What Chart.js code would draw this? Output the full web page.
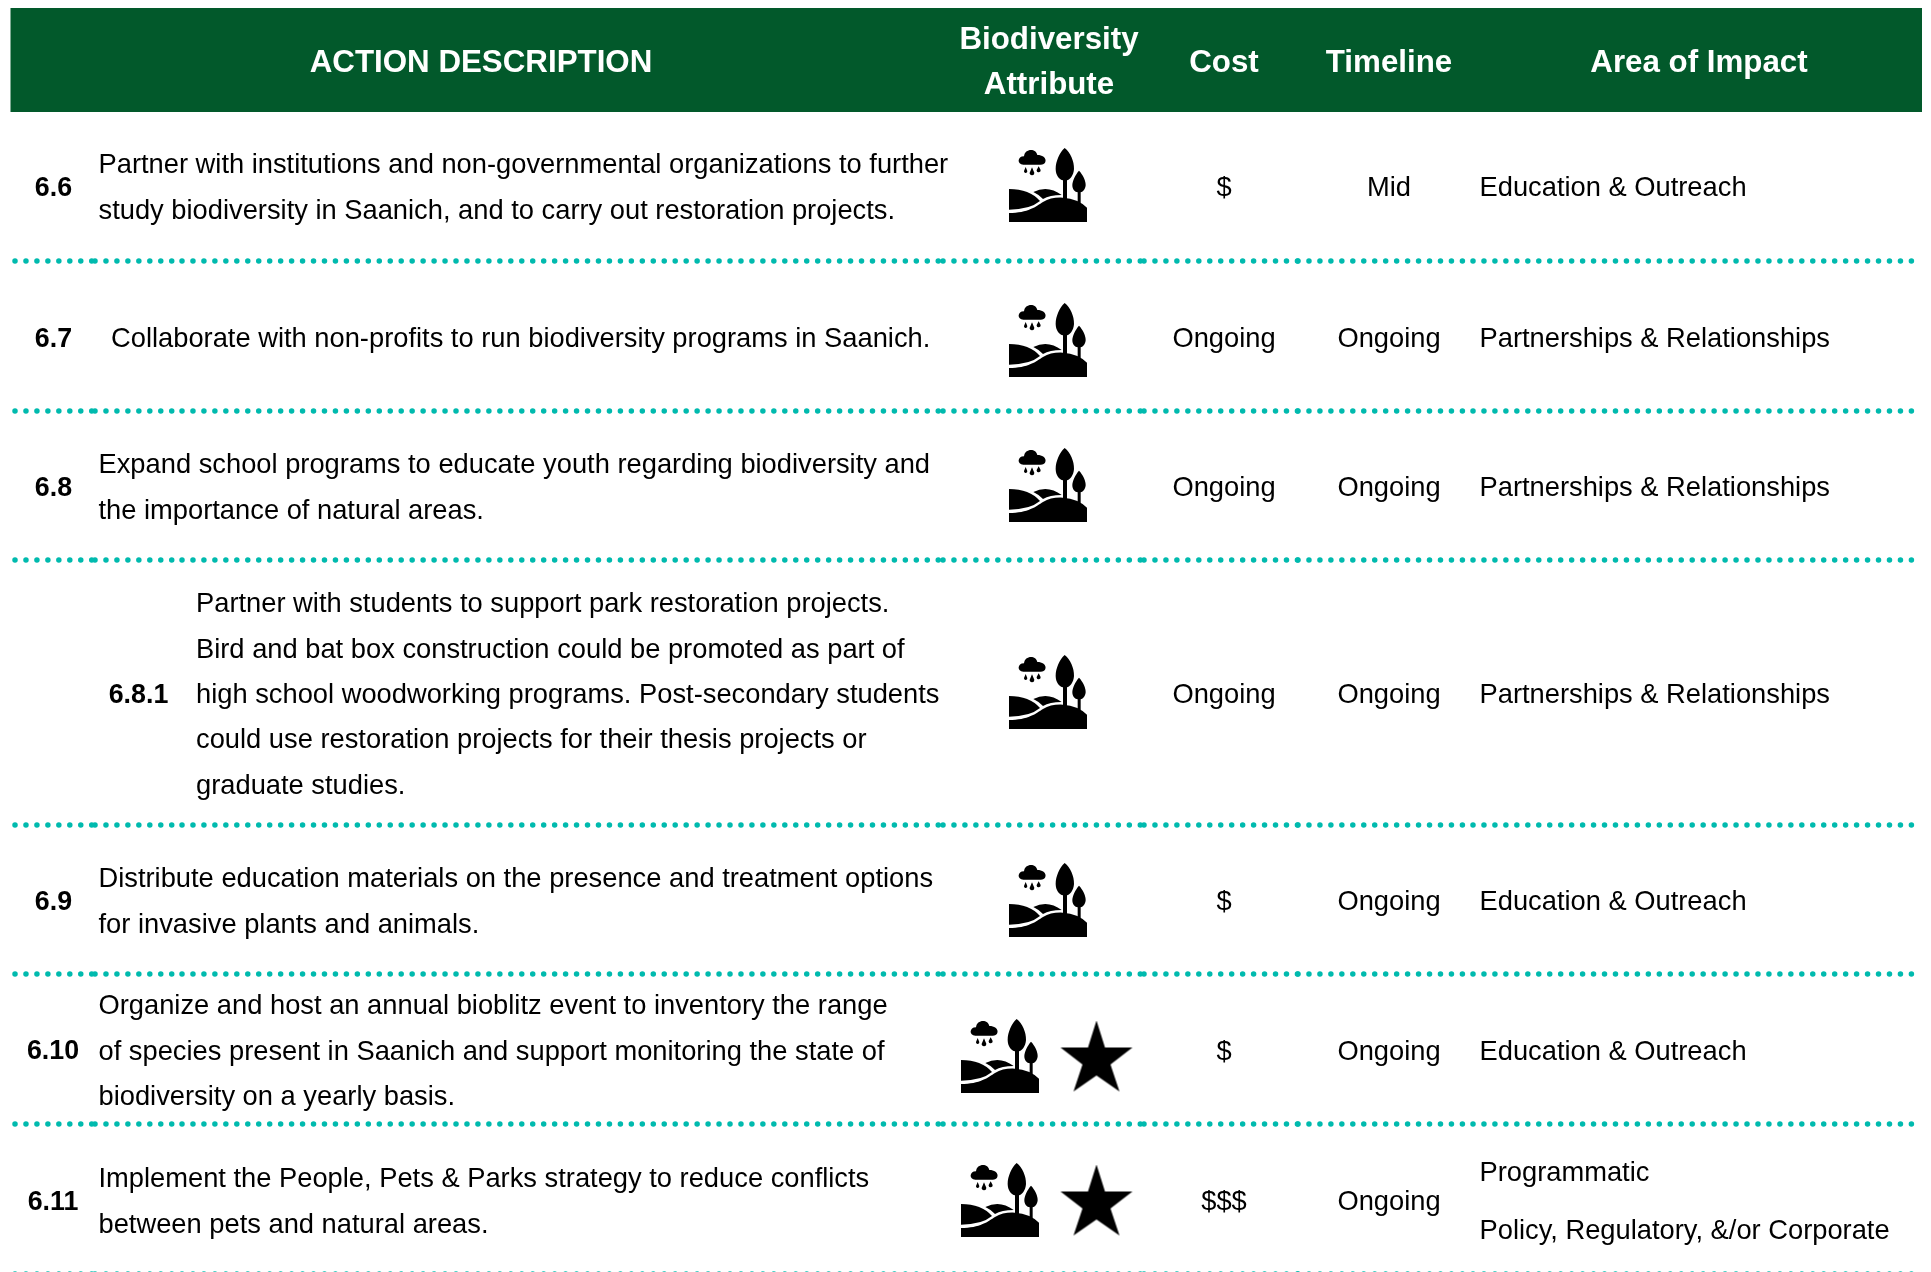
<!DOCTYPE html>
<html>
<head>
<meta charset="utf-8">
<title>Biodiversity actions</title>
<style>
  html, body { margin: 0; padding: 0; background: #fff; }
  canvas { display: block; }
</style>
<script src="https://cdn.jsdelivr.net/npm/chart.js@4"></script>
</head>
<body>
<canvas id="table" width="1931" height="1272"></canvas>
<script>
// ---- table content ----
const headerLabels = [["ACTION DESCRIPTION"], ["Biodiversity", "Attribute"], ["Cost"], ["Timeline"], ["Area of Impact"]];
const rowIds = ["6.6", "6.7", "6.8", "6.8.1", "6.9", "6.10", "6.11"];
const rowDescriptions = [
  ["Partner with institutions and non-governmental organizations to further", "study biodiversity in Saanich, and to carry out restoration projects."],
  ["Collaborate with non-profits to run biodiversity programs in Saanich."],
  ["Expand school programs to educate youth regarding biodiversity and", "the importance of natural areas."],
  ["Partner with students to support park restoration projects.", "Bird and bat box construction could be promoted as part of", "high school woodworking programs. Post-secondary students", "could use restoration projects for their thesis projects or", "graduate studies."],
  ["Distribute education materials on the presence and treatment options", "for invasive plants and animals."],
  ["Organize and host an annual bioblitz event to inventory the range", "of species present in Saanich and support monitoring the state of", "biodiversity on a yearly basis."],
  ["Implement the People, Pets & Parks strategy to reduce conflicts", "between pets and natural areas."],
];
const rowCosts = ["$", "Ongoing", "Ongoing", "Ongoing", "$", "$", "$$$"];
const rowTimelines = ["Mid", "Ongoing", "Ongoing", "Ongoing", "Ongoing", "Ongoing", "Ongoing"];
const rowImpacts = [
  ["Education & Outreach"],
  ["Partnerships & Relationships"],
  ["Partnerships & Relationships"],
  ["Partnerships & Relationships"],
  ["Education & Outreach"],
  ["Education & Outreach"],
  ["Programmatic", "Policy, Regulatory, &/or Corporate"],
];
const rowHasStar = [false, false, false, false, false, true, true];

// ---- layout (axes run in page pixels) ----
const headerBand = { left: 10.5, right: 1922, top: 8, bottom: 112 };
const rowMiddles = [188.5, 339.5, 488.5, 695.5, 902.5, 1052, 1202.5];
const iconMiddles = [185, 340, 485, 692, 900, 1056, 1200];
const separatorYs = [261, 411, 560, 825, 974, 1124, 1274];
const separatorBreaks = [15, 95, 182, 943, 1144, 1298, 1473, 1922];
const headerCentres = [481, 1049, 1224, 1389, 1699];
const idCentres = [53.5, 53.5, 53.5, 138.5, 53.5, 53, 53];
const descLefts = [98.5, 111, 98.5, 196, 98.5, 98.5, 98.5];
const costCentre = 1224, timelineCentre = 1389, impactLeft = 1479.5;
const lineGap = 45.3, impactGap = 58, headerGap = 45.5;

const INK = "#000000";
const GREEN = "#02592b";
const TEAL = "#00baae";
const FONT = '"Liberation Sans", Arial, sans-serif';

// ---- icons ----
function landscapeIcon() {
  const c = document.createElement("canvas");
  c.width = 78; c.height = 74;
  const g = c.getContext("2d");
  g.scale(1 / 3, 1 / 3);
  g.translate(-88, -55);
  g.fillStyle = INK;
  const blob = (fn) => { g.beginPath(); fn(); g.closePath(); g.fill(); };

  // cloud
  blob(() => {
    g.moveTo(131, 105);
    g.bezierCurveTo(112, 105, 112, 80, 133, 80);
    g.bezierCurveTo(135, 55, 170, 55, 173, 76);
    g.bezierCurveTo(204, 76, 204, 105, 184, 105);
  });
  // rain drops
  [[138, 112, 18, 5], [157, 113, 24, 7], [177, 110, 18, 6]].forEach(([x, y, h, r]) => {
    blob(() => {
      g.moveTo(x, y);
      g.arc(x, y + h - r, r, -0.15, Math.PI + 0.15);
    });
  });
  // big tree
  blob(() => {
    g.moveTo(255, 55);
    g.bezierCurveTo(272, 68, 284, 95, 283, 118);
    g.bezierCurveTo(282, 138, 270, 150, 262, 152);
    g.lineTo(262, 212); g.lineTo(250, 212); g.lineTo(250, 152);
    g.bezierCurveTo(240, 150, 228, 138, 228, 118);
    g.bezierCurveTo(228, 95, 240, 68, 255, 55);
  });
  // small tree
  blob(() => {
    g.moveTo(298, 123);
    g.bezierCurveTo(310, 135, 319, 155, 318, 167);
    g.bezierCurveTo(317, 180, 309, 187, 303, 188);
    g.lineTo(303, 222); g.lineTo(294, 222); g.lineTo(294, 188);
    g.bezierCurveTo(286, 187, 278, 180, 278, 167);
    g.bezierCurveTo(278, 155, 287, 135, 298, 123);
  });
  // hills
  blob(() => {
    g.moveTo(88, 178);
    g.quadraticCurveTo(150, 178, 181, 214);
    g.quadraticCurveTo(150, 240, 88, 240);
  });
  blob(() => {
    g.moveTo(161, 187);
    g.quadraticCurveTo(205, 165, 246, 196);
    g.quadraticCurveTo(210, 196, 190, 208);
    g.quadraticCurveTo(178, 195, 161, 187);
  });
  blob(() => {
    g.moveTo(88, 250);
    g.bezierCurveTo(145, 250, 170, 230, 190, 217);
    g.quadraticCurveTo(215, 202, 250, 204);
    g.quadraticCurveTo(295, 207, 322, 234);
    g.lineTo(322, 277);
    g.lineTo(88, 277);
  });
  return c;
}

function starIcon() {
  const c = document.createElement("canvas");
  c.width = 74; c.height = 72;
  const g = c.getContext("2d");
  const pts = [[37, 0], [45.5, 27], [73, 27], [51, 44], [60, 71], [37, 55], [14, 71], [23, 44], [1, 27], [28.5, 27]];
  g.fillStyle = INK;
  g.beginPath();
  pts.forEach(([x, y], i) => (i ? g.lineTo(x, y) : g.moveTo(x, y)));
  g.closePath();
  g.fill();
  return c;
}

// ---- datasets ----
const datasets = [];

datasets.push({
  data: [{ x: headerBand.left, y: (headerBand.top + headerBand.bottom) / 2 }, { x: headerBand.right, y: (headerBand.top + headerBand.bottom) / 2 }],
  showLine: true, pointRadius: 0, borderColor: GREEN, borderWidth: headerBand.bottom - headerBand.top, borderCapStyle: "butt",
});

separatorYs.forEach((y) => {
  for (let i = 0; i < separatorBreaks.length - 1; i++) {
    datasets.push({
      data: [{ x: separatorBreaks[i], y }, { x: separatorBreaks[i + 1], y }],
      showLine: true, pointRadius: 0, borderColor: TEAL, borderWidth: 5.5,
      borderCapStyle: "round", borderDash: [0.01, 10.95],
    });
  }
});

const land = landscapeIcon();
const star = starIcon();
datasets.push({
  data: rowIds.map((id, i) => ({ x: rowHasStar[i] ? 1000 : 1048, y: iconMiddles[i] })),
  pointStyle: land, pointRadius: 30, showLine: false,
});
datasets.push({
  data: rowIds.map((id, i) => ({ x: 1096.5, y: iconMiddles[i] + 0.5 })).filter((p, i) => rowHasStar[i]),
  pointStyle: star, pointRadius: 30, showLine: false,
});

// ---- text, placed through the scales ----
const tableText = {
  id: "tableText",
  afterDatasetsDraw(chart) {
    const { ctx, scales: { x, y } } = chart;
    const put = (str, px, py, align, font, color) => {
      ctx.font = font; ctx.fillStyle = color; ctx.textAlign = align; ctx.textBaseline = "middle";
      ctx.fillText(str, x.getPixelForValue(px), y.getPixelForValue(py));
    };
    const stack = (lines, middle, gap, fn) => lines.forEach((l, i) => fn(l, middle + (i - (lines.length - 1) / 2) * gap));

    ctx.save();
    const headY = (headerBand.top + headerBand.bottom) / 2 + 3;
    headerLabels.forEach((lines, i) => {
      stack(lines, headY, headerGap, (l, py) => put(l, headerCentres[i], py, "center", `bold 31.3px ${FONT}`, "#ffffff"));
    });
    const body = `27.3px ${FONT}`;
    rowIds.forEach((id, i) => {
      const mid = rowMiddles[i];
      put(id, idCentres[i], mid, "center", `bold 26.8px ${FONT}`, INK);
      stack(rowDescriptions[i], mid, lineGap, (l, py) => put(l, descLefts[i], py, "left", body, INK));
      put(rowCosts[i], costCentre, mid, "center", body, INK);
      put(rowTimelines[i], timelineCentre, mid, "center", body, INK);
      stack(rowImpacts[i], mid, impactGap, (l, py) => put(l, impactLeft, py, "left", body, INK));
    });
    ctx.restore();
  },
};

new Chart(document.getElementById("table").getContext("2d"), {
  type: "scatter",
  data: { datasets },
  options: {
    responsive: false, animation: false,
    layout: { padding: 0, autoPadding: false },
    plugins: { legend: { display: false }, tooltip: { enabled: false } },
    scales: {
      x: { type: "linear", display: false, min: 0, max: 1931 },
      y: { type: "linear", display: false, min: 0, max: 1272, reverse: true },
    },
  },
  plugins: [tableText],
});
</script>
</body>
</html>
